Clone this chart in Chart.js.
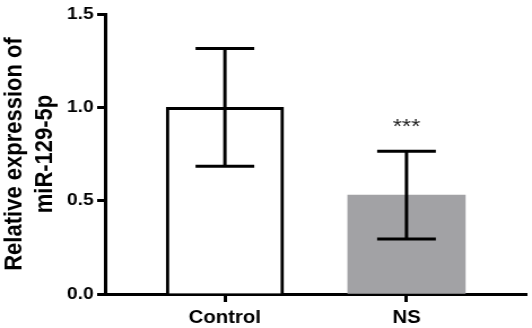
<!DOCTYPE html>
<html>
<head>
<meta charset="utf-8">
<script src="https://cdn.jsdelivr.net/npm/chart.js@4.4.1/dist/chart.umd.min.js"></script>
<style>
html,body{margin:0;padding:0;background:#fff;}
</style>
</head>
<body>
<!-- drawn 471 wide and stretched sideways to 532, like the exported figure -->
<canvas id="chart" width="471" height="328" style="width:532px;height:328px;display:block"></canvas>
<script>

const groups=["Control","NS"]
const means=[1.0,0.53]
const sd=[0.315,0.235]
const marks=["","***"]
const yTicks=[0,0.5,1.0,1.5]

const fillColors=["#ffffff","#a2a2a5"]
const borderWidths=[3,0]

const FONT="'Liberation Sans', Arial, sans-serif"

// whiskers + significance stars, drawn on top of the bars
const errorBars={
id:"errorBars",
afterDatasetsDraw(chart){

const ctx=chart.ctx
const y=chart.scales.y
const meta=chart.getDatasetMeta(0)
const cap=26

ctx.save()
ctx.strokeStyle="#000"
ctx.lineWidth=3
ctx.lineCap="butt"

meta.data.forEach((bar,i)=>{

const hi=y.getPixelForValue(means[i]+sd[i])
const lo=y.getPixelForValue(means[i]-sd[i])

ctx.beginPath()
ctx.moveTo(bar.x,hi)
ctx.lineTo(bar.x,lo)
ctx.moveTo(bar.x-cap,hi)
ctx.lineTo(bar.x+cap,hi)
ctx.moveTo(bar.x-cap,lo)
ctx.lineTo(bar.x+cap,lo)
ctx.stroke()

if(marks[i]){
ctx.fillStyle="#222"
ctx.font="21px "+FONT
ctx.textAlign="center"
ctx.textBaseline="alphabetic"
ctx.fillText(marks[i],bar.x,hi-18)
}

})

ctx.restore()

}
}

new Chart(document.getElementById("chart"),{

type:"bar",

data:{
datasets:[{
data:groups.map((g,i)=>({x:i,y:means[i]})),
backgroundColor:fillColors,
borderColor:"#000",
borderWidth:borderWidths,
borderSkipped:"start",
barThickness:104
}]
},

options:{
responsive:false,
devicePixelRatio:1,
animation:false,
layout:{padding:{top:14,right:5,bottom:0,left:0}},
plugins:{
legend:{display:false},
tooltip:{enabled:false}
},
scales:{

x:{
type:"linear",
offset:false,
min:-0.66,
max:1.66,
afterBuildTicks:s=>{ s.ticks=groups.map((g,i)=>({value:i})) },
afterFit:s=>{ s.height=34 },
grid:{offset:false,drawOnChartArea:false,drawTicks:true,tickLength:8,tickWidth:3,color:"#000"},
border:{display:true,width:3,color:"#000"},
ticks:{
callback:v=>groups[v],
color:"#000",
padding:5,
maxRotation:0,
autoSkip:false,
font:{family:FONT,size:18,weight:"bold"}
}
},

y:{
min:0,
max:1.5,
afterBuildTicks:s=>{ s.ticks=yTicks.map(v=>({value:v})) },
afterFit:s=>{ s.width=93 },
grid:{drawOnChartArea:false,drawTicks:true,tickLength:7,tickWidth:3,color:"#000"},
border:{display:true,width:3,color:"#000"},
ticks:{
callback:v=>v.toFixed(1),
color:"#000",
padding:3,
font:{family:FONT,size:17,weight:"bold"}
},
title:{
display:true,
text:["Relative expression of","miR-129-5p"],
color:"#000",
padding:{top:0,bottom:0},
font:{family:FONT,size:22,weight:"bold",lineHeight:1.2}
}
}

}
},

plugins:[errorBars]

})

</script>
</body>
</html>
